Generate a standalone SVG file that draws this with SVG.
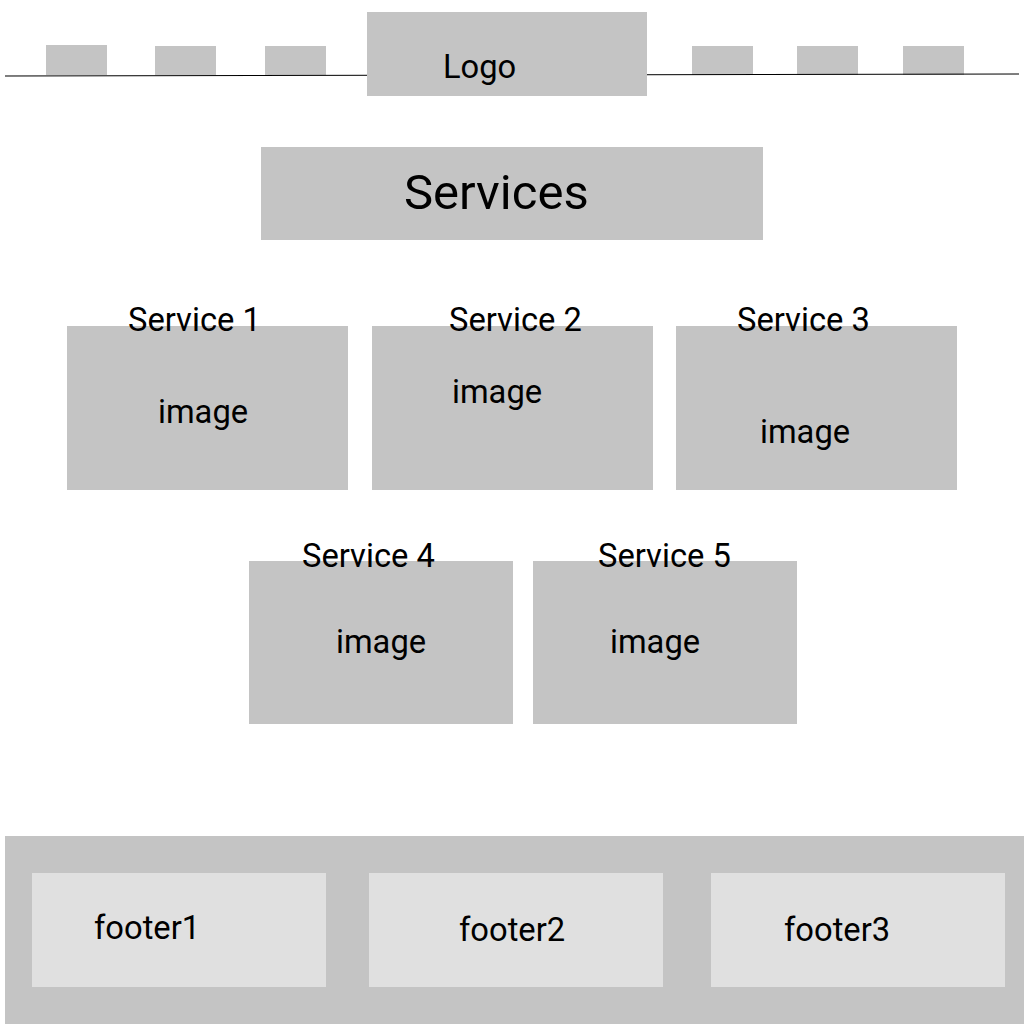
<svg xmlns="http://www.w3.org/2000/svg" width="1024" height="1024" viewBox="0 0 1024 1024">
  <style>
    .blk { fill: #c4c4c4; }
    .pane { fill: #e0e0e0; }
    .txt { font-family: Roboto, "Liberation Sans", sans-serif; font-size: 32.7px; fill: #000; }
    .big { font-size: 49px; }
    .rule { stroke: #000; stroke-width: 1.2; fill: none; }
  </style>
  <rect width="1024" height="1024" fill="#ffffff"/>

  <!-- header: nav placeholders, rule, logo -->
  <g id="header">
    <g id="nav-left">
      <rect class="blk" x="46" y="45" width="61" height="30"/>
      <rect class="blk" x="155" y="46" width="61" height="29"/>
      <rect class="blk" x="265" y="46" width="61" height="29"/>
    </g>
    <g id="nav-right">
      <rect class="blk" x="692" y="46" width="61" height="29"/>
      <rect class="blk" x="797" y="46" width="61" height="29"/>
      <rect class="blk" x="903" y="46" width="61" height="29"/>
    </g>
    <line class="rule" x1="5" y1="76" x2="1019" y2="74"/>
    <g id="logo">
      <rect class="blk" x="367" y="12" width="280" height="84"/>
      <text class="txt" x="443" y="78">Logo</text>
    </g>
  </g>

  <!-- section title -->
  <g id="services-title">
    <rect class="blk" x="261" y="147" width="502" height="93"/>
    <text class="txt big" x="404" y="209">Services</text>
  </g>

  <!-- service cards -->
  <g id="service-1">
    <rect class="blk" x="67" y="326" width="281" height="164"/>
    <text class="txt" x="128" y="331">Service 1</text>
    <text class="txt" x="158" y="423">image</text>
  </g>
  <g id="service-2">
    <rect class="blk" x="372" y="326" width="281" height="164"/>
    <text class="txt" x="449" y="331">Service 2</text>
    <text class="txt" x="452" y="403">image</text>
  </g>
  <g id="service-3">
    <rect class="blk" x="676" y="326" width="281" height="164"/>
    <text class="txt" x="737" y="331">Service 3</text>
    <text class="txt" x="760" y="443">image</text>
  </g>
  <g id="service-4">
    <rect class="blk" x="249" y="561" width="264" height="163"/>
    <text class="txt" x="302" y="567">Service 4</text>
    <text class="txt" x="336" y="653">image</text>
  </g>
  <g id="service-5">
    <rect class="blk" x="533" y="561" width="264" height="163"/>
    <text class="txt" x="598" y="567">Service 5</text>
    <text class="txt" x="610" y="653">image</text>
  </g>

  <!-- footer -->
  <g id="footer">
    <rect class="blk" x="5" y="836" width="1019" height="188"/>
    <g id="footer-1">
      <rect class="pane" x="32" y="873" width="294" height="114"/>
      <text class="txt" x="94" y="939">footer1</text>
    </g>
    <g id="footer-2">
      <rect class="pane" x="369" y="873" width="294" height="114"/>
      <text class="txt" x="459" y="941">footer2</text>
    </g>
    <g id="footer-3">
      <rect class="pane" x="711" y="873" width="294" height="114"/>
      <text class="txt" x="784" y="941">footer3</text>
    </g>
  </g>

  <!-- no connectors in this layout -->
  <g id="connectors"/>
</svg>
